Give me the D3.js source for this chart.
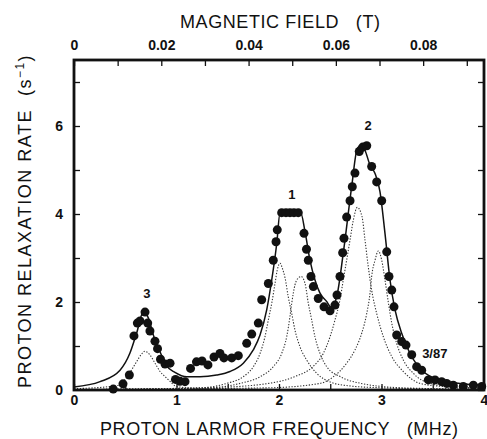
<!DOCTYPE html>
<html>
<head>
<meta charset="utf-8">
<script src="https://cdn.jsdelivr.net/npm/d3@7"></script>
<style>
  body { margin: 0; background: #fff; }
  svg { display: block; }
  .tick text { font-family: "Liberation Sans", Arial, sans-serif; font-weight: bold; font-size: 14px; fill: #111; }
  .title { font-family: "Liberation Sans", Arial, sans-serif; font-size: 18px; fill: #111; white-space: pre; }
  .peak { font-family: "Liberation Sans", Arial, sans-serif; font-weight: bold; font-size: 13px; fill: #111; }
</style>
</head>
<body>
<script>
// measured points (MHz, s^-1)
const dataPoints = [
  [0.383,0.02],[0.478,0.14],[0.540,0.34],[0.585,1.23],[0.618,1.52],[0.644,1.57],[0.693,1.77],
  [0.719,1.52],[0.741,1.34],[0.790,1.11],[0.815,0.94],[0.844,0.70],[0.888,0.59],[0.937,0.61],
  [0.990,0.24],[1.034,0.20],[1.083,0.19],[1.137,0.49],[1.195,0.64],[1.249,0.66],[1.307,0.57],
  [1.366,0.75],[1.424,0.83],[1.463,0.73],[1.539,0.73],[1.603,0.78],[1.685,1.06],[1.734,1.27],
  [1.798,1.52],[1.831,2.05],[1.896,2.42],[1.944,2.95],[1.971,3.37],[1.983,3.64],[2.026,4.03],
  [2.068,4.03],[2.107,4.03],[2.146,4.03],[2.188,4.03],[2.244,3.56],[2.268,3.20],[2.286,2.95],
  [2.312,2.58],[2.335,2.35],[2.383,2.08],[2.439,1.89],[2.498,1.80],[2.546,1.93],[2.566,2.16],
  [2.595,2.58],[2.621,3.12],[2.634,3.45],[2.660,3.93],[2.693,4.30],[2.715,4.62],[2.741,4.93],
  [2.783,5.42],[2.817,5.52],[2.856,5.55],[2.904,5.08],[2.953,4.73],[3.002,4.30],[3.051,3.14],
  [3.073,2.58],[3.100,2.27],[3.122,1.89],[3.148,1.25],[3.197,1.10],[3.239,1.02],[3.295,0.80],
  [3.343,0.53],[3.392,0.45],[3.457,0.23],[3.522,0.23],[3.587,0.19],[3.636,0.15],[3.700,0.11],
  [3.798,0.08],[3.896,0.11],[3.978,0.08]
];

// fitted sum
const fitCurve = [
  [0,0.07],[0.254,0.19],[0.449,0.45],[0.546,0.84],[0.612,1.30],[0.676,1.78],[0.725,1.64],
  [0.774,1.25],[0.839,0.87],[0.904,0.55],[0.985,0.40],[1.100,0.30],[1.229,0.30],[1.392,0.34],
  [1.522,0.42],[1.652,0.61],[1.749,0.91],[1.815,1.25],[1.880,1.82],[1.929,2.50],[1.978,3.33],
  [2.010,4.02],[2.212,4.02],[2.254,3.60],[2.302,2.95],[2.351,2.50],[2.400,2.20],[2.465,2.01],
  [2.508,1.88],[2.563,2.12],[2.627,3.11],[2.709,4.62],[2.764,5.49],[2.807,5.57],[2.839,5.45],
  [2.888,5.11],[2.937,4.92],[2.985,4.51],[3.034,3.56],[3.083,2.50],[3.132,1.82],[3.197,1.29],
  [3.278,0.83],[3.408,0.42],[3.571,0.23],[3.766,0.15],[4.0,0.11]
];

// dotted components
const comp3 = [
  [0,0.03],[0.2,0.05],[0.35,0.08],[0.45,0.12],[0.51,0.28],[0.56,0.45],[0.61,0.64],[0.66,0.82],
  [0.69,0.88],[0.74,0.80],[0.79,0.61],[0.84,0.42],[0.89,0.30],[0.94,0.19],[0.99,0.09],[1.1,0.05],
  [1.4,0.025],[2,0.01],[3,0.004],[4,0.002]
];
const comp1a = [
  [0,0.01],[1.0,0.03],[1.3,0.06],[1.49,0.15],[1.65,0.30],[1.75,0.53],[1.815,0.83],[1.863,1.21],
  [1.896,1.59],[1.929,1.97],[1.961,2.42],[1.985,2.75],[2.01,2.88],[2.035,2.75],[2.059,2.55],
  [2.09,2.12],[2.124,1.74],[2.156,1.36],[2.205,0.98],[2.27,0.68],[2.368,0.38],[2.5,0.18],
  [2.7,0.09],[3.0,0.05],[3.5,0.025],[4,0.015]
];
const comp1b = [
  [0,0.01],[1.0,0.02],[1.36,0.05],[1.62,0.15],[1.815,0.30],[1.944,0.53],[2.026,0.83],[2.075,1.21],
  [2.107,1.67],[2.124,1.97],[2.156,2.39],[2.19,2.55],[2.215,2.58],[2.254,2.42],[2.286,1.97],
  [2.319,1.59],[2.351,1.21],[2.40,0.83],[2.465,0.53],[2.6,0.30],[2.8,0.15],[3.2,0.05],[4,0.015]
];
const comp2a = [
  [0,0.01],[1.4,0.06],[1.9,0.15],[2.15,0.30],[2.33,0.53],[2.432,0.83],[2.498,1.21],[2.546,1.59],
  [2.595,2.05],[2.627,2.50],[2.66,2.95],[2.693,3.41],[2.725,3.86],[2.764,4.15],[2.81,3.94],
  [2.839,3.41],[2.871,2.80],[2.904,2.27],[2.953,1.74],[3.018,1.21],[3.1,0.76],[3.213,0.42],
  [3.376,0.15],[3.6,0.08],[4,0.04]
];
const comp2b = [
  [0,0.01],[1.9,0.05],[2.4,0.15],[2.53,0.30],[2.66,0.61],[2.741,0.91],[2.807,1.29],[2.856,1.74],
  [2.888,2.20],[2.904,2.58],[2.937,2.95],[2.969,3.16],[3.002,2.95],[3.034,2.50],[3.068,1.97],
  [3.1,1.52],[3.148,1.06],[3.213,0.68],[3.31,0.38],[3.473,0.15],[3.8,0.06],[4,0.04]
];

const freqTicks = [0,0.5,1,1.5,2,2.5,3,3.5,4];
const fieldTicks = [0,0.01,0.02,0.03,0.04,0.05,0.06,0.07,0.08,0.09];
const rateTicks = [0,1,2,3,4,5,6,7];

const peakLabels = [
  { text: "3", f: 0.71, v: 2.1 },
  { text: "1", f: 2.125, v: 4.35 },
  { text: "2", f: 2.87, v: 5.9 },
  { text: "3/87", f: 3.52, v: 0.72 }
];

const width = 487, height = 439;
const mLeft = 74, mRight = 484, mTop = 60, mBottom = 390;

const svg = d3.select("body").append("svg")
    .attr("width", width)
    .attr("height", height);

const x = d3.scaleLinear().domain([0, 4]).range([mLeft, mRight]);
const xField = d3.scaleLinear().domain([0, 4 / 42.58]).range([mLeft, mRight]);
const y = d3.scaleLinear().domain([0, 7.5]).range([mBottom, mTop]);

// axes with inward ticks
const gB = svg.append("g").attr("transform", `translate(0,${mBottom})`)
    .call(d3.axisBottom(x).tickValues(freqTicks).tickSize(-6).tickPadding(5)
        .tickFormat(d => Number.isInteger(d) ? d : ""));
const gT = svg.append("g").attr("transform", `translate(0,${mTop})`)
    .call(d3.axisTop(xField).tickValues(fieldTicks).tickSize(-6).tickPadding(10)
        .tickFormat(d => {
            const k = Math.round(d * 100);
            return k === 0 ? "0" : (k % 2 === 0 ? d.toFixed(2) : "");
        }));
const gL = svg.append("g").attr("transform", `translate(${mLeft},0)`)
    .call(d3.axisLeft(y).tickValues(rateTicks).tickSize(-6).tickPadding(11)
        .tickFormat(d => d % 2 === 0 ? d : ""));
const gR = svg.append("g").attr("transform", `translate(${mRight},0)`)
    .call(d3.axisRight(y).tickValues(rateTicks).tickSize(-6).tickFormat(""));

[gB, gT, gL, gR].forEach(g => {
    g.select(".domain").remove();
    g.selectAll(".tick line").attr("stroke", "#111").attr("stroke-width", 1.3);
});
gL.selectAll(".tick").filter(d => d === 0).select("line").remove();

// dotted components
const line = d3.line().x(d => x(d[0])).y(d => y(d[1])).curve(d3.curveMonotoneX);
[comp3, comp1a, comp1b, comp2a, comp2b].forEach(c => {
    svg.append("path")
        .datum(c)
        .attr("d", line)
        .attr("fill", "none")
        .attr("stroke", "#333")
        .attr("stroke-width", 1.1)
        .attr("stroke-dasharray", "1.3,1.6");
});

// fit
svg.append("path")
    .datum(fitCurve)
    .attr("d", line)
    .attr("fill", "none")
    .attr("stroke", "#111")
    .attr("stroke-width", 1.5);

// points
svg.append("g")
    .selectAll("circle")
    .data(dataPoints)
    .enter().append("circle")
    .attr("cx", d => x(d[0]))
    .attr("cy", d => y(d[1]))
    .attr("r", 4.5)
    .attr("fill", "#111");

// frame
svg.append("rect")
    .attr("x", mLeft).attr("y", mTop)
    .attr("width", mRight - mLeft).attr("height", mBottom - mTop)
    .attr("fill", "none")
    .attr("stroke", "#111")
    .attr("stroke-width", 2.8);

// peak labels
svg.append("g")
    .selectAll("text")
    .data(peakLabels)
    .enter().append("text")
    .attr("class", "peak")
    .attr("x", d => x(d.f))
    .attr("y", d => y(d.v))
    .attr("text-anchor", "middle")
    .text(d => d.text);

// titles
svg.append("text")
    .attr("class", "title")
    .attr("x", 280).attr("y", 28)
    .attr("text-anchor", "middle")
    .attr("textLength", 200).attr("lengthAdjust", "spacing")
    .text("MAGNETIC FIELD   (T)");

svg.append("text")
    .attr("class", "title")
    .attr("x", 279).attr("y", 435)
    .attr("text-anchor", "middle")
    .attr("textLength", 358).attr("lengthAdjust", "spacing")
    .text("PROTON LARMOR FREQUENCY   (MHz)");

const yt = svg.append("text")
    .attr("class", "title")
    .attr("transform", "translate(31,221) rotate(-90)")
    .attr("text-anchor", "middle")
    .style("letter-spacing", "1.5px");
yt.append("tspan").text("PROTON RELAXATION RATE  (s");
yt.append("tspan").attr("dy", -7).attr("font-size", 12).text("−1");
yt.append("tspan").attr("dy", 7).text(")");
</script>
</body>
</html>
